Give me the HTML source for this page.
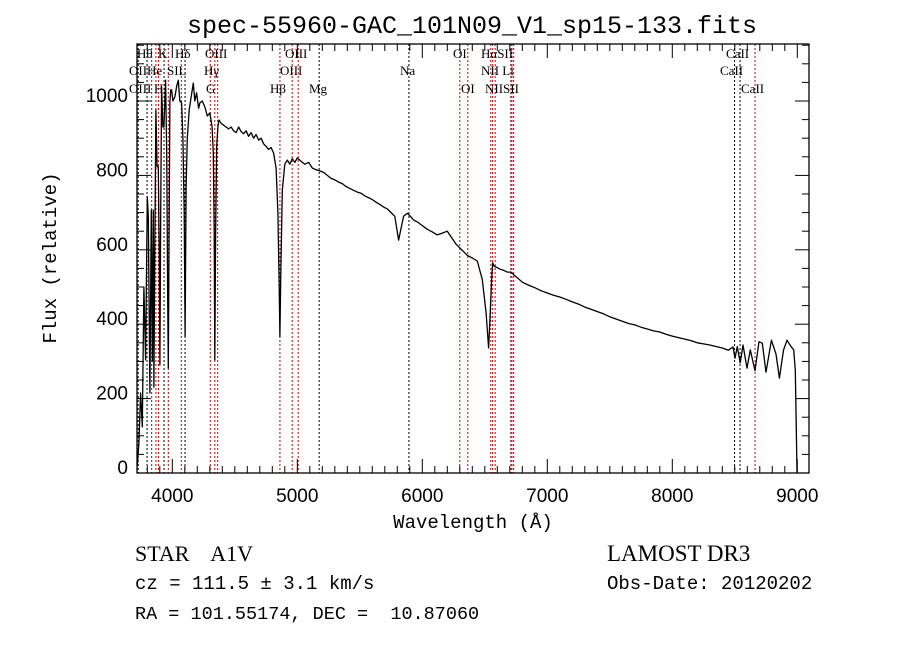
<!DOCTYPE html>
<html><head><meta charset="utf-8"><style>
html,body{margin:0;padding:0;background:#fff;}
#wrap{position:relative;width:900px;height:649px;overflow:hidden;background:#fff;}
svg{position:absolute;left:0;top:0;}
.t{font-family:"Liberation Sans",sans-serif;fill:#000;}
.ser{font-family:"Liberation Serif",serif;font-size:13px;fill:#000;}
.mono{font-family:"Liberation Mono",monospace;fill:#000;}
</style></head><body>
<div id="wrap">
<svg id="chart" width="900" height="649"></svg>
</div>
<script>
const wavelengths=[3720,3733,3746,3760,3773,3786,3800,3808,3821,3832,3840,3848,3853,3860,3869,3878,3888,3895,3901,3907,3914,3925,3933,3946,3955,3962,3968,3975,3981,3988,3994,4005,4021,4035,4048,4060,4074,4085,4095,4102,4110,4120,4135,4150,4168,4180,4194,4210,4221,4240,4261,4280,4301,4318,4328,4335,4340,4346,4355,4365,4373,4390,4410,4430,4450,4470,4490,4510,4530,4550,4570,4590,4610,4630,4650,4670,4690,4710,4730,4750,4770,4790,4810,4830,4845,4855,4861,4867,4880,4900,4920,4940,4960,4980,5000,5030,5060,5090,5120,5150,5180,5210,5240,5270,5300,5330,5360,5390,5420,5450,5480,5510,5540,5570,5600,5630,5660,5690,5720,5750,5780,5810,5850,5880,5893,5905,5930,5960,6000,6040,6080,6120,6160,6200,6240,6270,6300,6330,6360,6400,6440,6480,6510,6530,6545,6555,6563,6570,6580,6600,6620,6650,6680,6710,6740,6770,6800,6850,6900,6950,7000,7050,7100,7150,7200,7250,7300,7350,7400,7450,7500,7550,7600,7650,7700,7750,7800,7850,7900,7950,8000,8050,8100,8150,8200,8250,8300,8350,8400,8450,8486,8502,8520,8543,8566,8598,8624,8662,8694,8720,8750,8793,8830,8857,8890,8918,8950,8971,8984,8992,8998];
const fluxValues=[20,80,215,124,500,304,742,690,215,707,300,707,231,600,976,823,823,600,290,700,1038,930,930,1056,860,500,282,700,1000,1030,1030,1000,1011,1040,1056,1000,995,900,700,366,769,900,976,1010,1048,1000,1022,980,995,1000,984,960,968,930,860,650,304,640,880,930,949,940,935,930,925,930,920,915,930,918,912,920,905,915,900,910,895,900,885,878,870,875,860,820,700,500,366,520,760,830,841,830,845,835,847,838,830,835,820,815,812,808,800,792,788,782,778,770,765,760,755,752,745,740,735,728,722,715,710,700,690,626,690,698,694,690,680,675,665,655,648,640,645,650,630,615,605,595,585,578,570,520,430,336,440,525,565,558,555,552,548,545,540,540,530,522,513,505,498,490,484,478,473,467,460,454,446,440,434,428,420,414,408,402,398,392,387,382,379,373,368,364,360,356,350,347,344,340,336,330,339,309,340,296,344,282,331,275,353,349,271,357,320,255,330,357,340,331,277,120,0];
const yTicks=[0,200,400,600,800,1000];
const xTicks=[4000,5000,6000,7000,8000,9000];
const lineWaves=[3727,3798,3835,3869,3889,3934,3968,4072,4102,4304,4340,4363,4861,4959,5007,5175,5893,6300,6364,6548,6563,6583,6708,6717,6731,8498,8542,8662];
const lineDark=[1,1,0,0,0,1,0,0,1,0,0,0,0,0,0,1,1,0,0,0,0,0,0,0,0,1,1,0];

const NS='http://www.w3.org/2000/svg';
const svg=document.getElementById('chart');
const L=137,R=809,T=44,B=473;
function xs(w){return 172.3+(w-4000)*0.125;}
function ys(f){return 473-f*0.372;}
function mk(tag,attrs,parent){const e=document.createElementNS(NS,tag);for(const k in attrs)e.setAttribute(k,attrs[k]);(parent||svg).appendChild(e);return e;}
function txt(x,y,s,cls,extra){const e=mk('text',Object.assign({x:x,y:y,class:cls},extra||{}));e.textContent=s;return e;}

let tt=txt(472,33,'spec-55960-GAC_101N09_V1_sp15-133.fits','mono',{'font-size':'25','text-anchor':'middle'});



const gl=mk('g',{});


lineWaves.forEach((w,i)=>{
  const ln=mk('line',{x1:xs(w),x2:xs(w),y1:T,y2:B,stroke:lineDark[i]?'#000':'#c00000','stroke-width':1,'stroke-dasharray':'2,2'},gl);
  
  
});

const labels=[
 ['Hθ',137,58],['K',158,58],['Hδ',175,58],['OIII',205,58],['OIII',285,58],['OI',453,58],['HαSII',481,58],['CaII',726,58],
 ['OII',129,75],['He',147,75],['SIL',167,75],['Hγ',204,75],['OIII',280,75],['Na',400,75],['NII Li',481,75],['CaII',720,75],
 ['OIII',129,93],['H',154,93],['G',206,93],['Hβ',270,93],['Mg',309,93],['OI',461,93],['NIISII',485,93],['CaII',741,93]
];
labels.forEach(l=>{
  const e=txt(l[1],l[2],l[0],'ser');
  
  
});

let d='';
wavelengths.forEach((w,i)=>{d+=(i?'L':'M')+xs(w).toFixed(1)+' '+ys(fluxValues[i]).toFixed(1)+' ';});
const sp=mk('path',{d:d,fill:'none',stroke:'#000','stroke-width':1.3,'stroke-linejoin':'round'});



const ax=mk('rect',{x:L,y:T,width:R-L,height:B-T,fill:'none',stroke:'#000','stroke-width':1.3});



const gx=mk('g',{});


for(let w=3800;w<=9000;w+=100){
  const major=w%1000===0;const len=major?14:7;const x=xs(w);
  if(x<L||x>R)continue;
  mk('line',{x1:x,x2:x,y1:B,y2:B-len,stroke:'#000','stroke-width':1},gx);
  mk('line',{x1:x,x2:x,y1:T,y2:T+len,stroke:'#000','stroke-width':1},gx);
}
xTicks.forEach(w=>{
  const e=txt(xs(w),502,String(w),'t',{'font-size':'19','text-anchor':'middle'});
  
  
});
const gy=mk('g',{});


for(let f=0;f<=1150;f+=50){
  const major=f%200===0;const len=major?14:7;const y=ys(f);
  if(y<T)continue;
  mk('line',{x1:L,x2:L+len,y1:y,y2:y,stroke:'#000','stroke-width':1},gy);
  mk('line',{x1:R,x2:R-len,y1:y,y2:y,stroke:'#000','stroke-width':1},gy);
}
yTicks.forEach(f=>{
  const e=txt(128,ys(f)+1,String(f),'t',{'font-size':'19','text-anchor':'end'});
  
  
});
let xt=txt(473,528,'Wavelength (Å)','mono',{'font-size':'19','text-anchor':'middle'});


let yt=txt(0,0,'Flux (relative)','mono',{'font-size':'19','text-anchor':'middle',transform:'translate(56,258) rotate(-90)'});



const info=[
 ['STAR    A1V',135,561,'22','"Liberation Serif",serif','object-class'],
 ['cz = 111.5 ± 3.1 km/s',135,589,'19','"Liberation Mono",monospace','redshift-info'],
 ['RA = 101.55174, DEC =  10.87060',135,619,'18.5','"Liberation Mono",monospace','coordinates-info'],
 ['LAMOST DR3',607,561,'23','"Liberation Serif",serif','survey-name'],
 ['Obs-Date: 20120202',607,589,'19','"Liberation Mono",monospace','obs-date']
];
info.forEach(a=>{
  const e=txt(a[1],a[2],a[0],'t',{'font-size':a[3]});
  e.setAttribute('style','font-family:'+a[4]+';white-space:pre;');
  
  
});
</script>
</body></html>
